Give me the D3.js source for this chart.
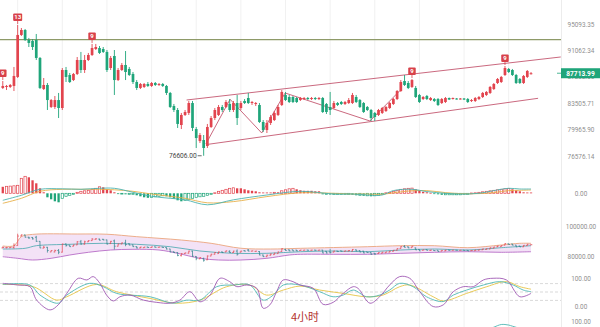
<!DOCTYPE html>
<html><head><meta charset="utf-8">
<script src="https://cdn.jsdelivr.net/npm/d3@7/dist/d3.min.js"></script>
<style>html,body{margin:0;padding:0;background:#fff;}svg{display:block;}</style>
</head><body><svg id="c" width="600" height="327"></svg>
<script>
// ---------- DATA (4h candles) ----------
const openP = [85620,85760,85760,85900,87180,93400,94160,92630,92480,92630,
89940,85470,86040,82990,82990,83940,82850,88180,87460,86740,
87610,89640,88180,89640,90380,91270,91420,91270,90830,88470,
90230,86740,88180,88910,88330,87610,86460,85620,85760,86180,
85900,86320,86040,86180,85900,84920,83120,82580,80570,81910,
82180,83530,80040,78480,78610,77840,80310,81500,81910,82990,
82990,83400,82580,83530,82850,83810,84220,83530,83400,83260,
80970,79910,80840,81230,81910,83260,84640,84360,84360,84220,
83940,84080,84220,84080,84220,84080,84220,83400,82990,82850,
83530,83670,83400,83530,83530,84360,83940,83530,82990,82580,
82180,81910,82180,82440,82850,83400,84080,85190,86600,86320,
85760,85620,84640,84080,84500,83940,84080,84080,83530,83670,
84220,84080,84150,84080,84150,84080,83810,83810,84080,84360,
84640,84920,85470,86320,86460,87460,88330,88180,87460,86890,
86320,87180,87610];
const closeP = [85900,85900,86040,87320,93400,94160,92630,92180,91570,89940,
85620,86040,83940,83940,83940,82850,88180,87180,86460,87610,
89640,88180,89640,90380,91420,91570,90680,90830,88180,89940,
86740,88180,88910,87890,87460,86460,85620,86180,86180,85900,
86320,86040,86180,85900,84920,82990,82580,80710,81910,82310,
83530,80180,78870,79260,77590,80310,81500,82580,82990,82580,
83670,82580,83530,81500,83530,83530,83530,83670,83530,80970,
79910,80840,81640,82180,82990,85060,83940,83670,83670,83670,
84220,84220,84080,84220,84080,84220,82310,82310,82580,83530,
83260,83400,83670,83940,84640,83670,82990,82310,82580,81500,
81640,82580,82850,82990,83530,84080,85190,86460,86040,85620,
86740,84360,83670,84360,84080,84220,83810,83260,84080,84220,
84010,84220,84080,84150,84010,83670,83940,84220,84360,84920,
85060,85760,86180,86890,87180,88470,87890,87460,86320,86320,
87320,88040,87713.99];
const highP = [86600,86040,86180,88620,94940,94470,94320,92940,92780,93550,
90080,87030,86320,84080,84500,84920,88470,88620,87750,87750,
90080,90830,90380,90680,92030,92030,91720,91570,91120,90230,
91120,88470,89200,90970,88620,87890,86740,86320,86320,86460,
86460,86460,86320,86320,86040,85060,83400,82850,82180,82580,
83810,83810,80310,79520,79260,80710,81770,82850,83260,83260,
83940,84080,83810,84640,83810,84080,84920,83810,83670,83530,
81230,81230,81910,82440,83260,85330,85060,84640,84500,84360,
84360,84360,84360,84360,84360,84360,84360,83530,85060,83810,
83670,83810,83810,84220,84920,84640,84080,83670,83120,82720,
82310,82720,82990,83120,83670,84220,85330,86740,87460,86600,
86890,85900,84780,84500,84640,84360,84220,84220,84220,84360,
84290,84290,84220,84220,84220,84220,84080,84360,84500,85060,
85190,85900,86320,87030,87320,88760,88470,88330,87610,87030,
87460,88180,87890];
const lowP = [85470,85330,85620,85190,87030,93240,92480,91570,91120,89640,
85470,85330,82580,82850,82720,81500,82580,86460,86320,86600,
87460,87750,87750,89490,90230,91120,90530,90680,87890,88180,
84640,86600,88040,86740,87320,86180,85330,85470,85620,85760,
85760,85900,85900,85760,84640,82850,82310,80180,80040,81770,
81910,79780,77590,78230,76606,77590,80180,81230,81770,82310,
82850,82310,82310,80570,82580,83400,83400,83260,83120,80840,
79650,79520,80570,81100,81770,83120,83810,83530,83530,83530,
83810,83940,83940,83940,83940,83940,82180,82040,81910,82720,
83120,83260,83260,83400,83400,83530,82850,82180,82440,81100,
81100,81770,82040,82310,82720,83260,83940,85060,85900,85470,
85620,84220,83530,83940,83940,83810,83670,83120,83400,83530,
83940,84010,84010,84010,83940,83530,83670,83670,83940,84220,
84500,84780,85330,86180,86320,87320,87750,87320,86180,86180,
86180,87030,87530];

const priceTicks = [99302.83, 95093.35, 91062.34, 87202.05, 83505.71, 79965.90, 76576.14];
const lastPrice = 87713.99;
const lowIdx = 54, lowPrice = 76606.00;
const markIdx = [0, 4, 24, 110, 135];
const markText = ["9", "13", "9", "9", "9"];
const levelPrice = 92680;
const upChIdx = [49.4, 150.0], upChPrice = [83944, 90084];
const loChIdx = [55.2, 143.9], loChPrice = [78060, 84180];
const zigIdx = [54.6, 61.1, 69.6, 75.9, 98.7, 106.8];
const zigPrice = [78099, 84040, 79522, 84916, 81102, 85264];

// MACD
const macdHist = [650,700,720,750,800,1500,1700,1600,1300,1000,
500,100,-400,-600,-800,-900,-500,-300,-200,-100,
100,200,250,300,400,500,650,600,400,300,
100,-50,-50,-100,-100,-100,-200,-300,-400,-450,
-400,-350,-300,-250,-300,-400,-550,-700,-800,-700,
-600,-500,-400,-350,-300,-200,-100,50,200,300,
400,500,550,500,500,400,300,250,200,100,
80,80,80,100,100,250,350,450,500,400,
300,250,250,250,200,200,-100,-100,-120,-120,
-100,-100,-100,-100,-150,-200,-200,-250,-250,-300,
-250,-200,-100,50,100,200,300,400,450,500,
520,400,300,150,100,50,-50,-100,-150,-150,
-150,-150,-150,-150,-100,-100,30,50,100,150,
200,250,300,350,400,450,480,400,300,200,
100,80,80];
const macdIdx = [0,5,10,16,21,26,30,35,40,45,49,55,62,71,80,89,94,98,102,105,110,114,119,123,128,132,136,139,142];
const difVals = [-700,-200,400,450,400,500,500,100,-300,-500,-650,-1150,-650,-170,200,-70,-70,-170,-170,270,400,170,0,-70,0,270,500,430,430];
const deaVals = [-1000,-500,200,400,400,400,350,200,-70,-300,-500,-950,-830,-330,50,0,-70,-80,-100,50,250,270,70,-30,-30,70,270,300,330];

// BOLL
const bollTicks = [100000, 80000];
const bollUpIdx = [0,3,5,8,20,28,36,48,56,64,72,80,98,107,116,125,134,139,142];
const bollUp = [86900,87100,93000,94500,94750,94600,93000,90800,88650,85400,84900,85370,86420,87080,87080,85770,87540,88650,88650];
const bollLowIdx = [0,4,8,13,18,23,29,35,42,47,53,58,64,71,77,80,89,98,107,116,125,134,142];
const bollLow = [79860,78810,77700,78810,80980,82750,84260,84720,84260,82090,78810,77700,77700,78810,80980,81440,81440,81440,82090,82750,83140,82750,83140];
const bollMidIdx = [0,6,9,18,27,36,45,53,62,71,80,89,98,107,116,125,134,142];
const bollMid = [84910,85370,87080,88000,88650,88000,86420,83600,82090,82090,83140,83600,83140,84260,84910,84260,85770,87080];

// KDJ
const kdjTicks = [100, 0];
const kdjLevels = [80, 50, 20];
const jIdx = [0,4,7.3,9.1,12.7,14.9,17.2,20.3,22.6,24.3,26.1,27.9,29.7,31.5,34.2,37.8,41.4,45,47.6,50.3,53,55.7,58.4,61,62.9,65.6,68.3,70,71.8,73.6,75.4,78,79.9,83.5,86.1,88.8,91.5,94.2,95.5,98.7,101.3,104,106.7,109.4,112.1,115.7,118.4,121.1,123.8,126.5,129.2,131.8,135.4,139,142];
const jVals = [81,75,69,21,-14,4,45,99,93,105,81,39,18,33,39,21,13,10,21,51,15,39,99,87,69,75,63,-8,4,51,93,87,75,63,6,13,45,69,63,10,33,75,105,99,51,-2,4,51,69,69,93,99,93,33,45];
const kIdx = [0,7.3,10,14.9,17.2,23.4,27,30.6,39.6,45.8,49.4,53,57.5,62,66.4,70,72.7,75.4,79.9,85.2,88.8,91.5,94.2,97.8,101.3,104,106.7,110.3,113.9,118.4,121.1,124.7,129.2,133.6,137.2,139.9,142];
const kVals = [77,75,39,10,39,81,69,45,33,10,21,21,69,75,75,21,39,75,75,51,33,39,57,33,39,57,81,69,33,16,39,57,75,87,75,57,51];
const dIdx = [0,8.2,14.5,17.2,25.2,30.6,39.6,46.7,53,60.2,66.4,70.9,75.4,79.9,85.2,91.5,97.8,102.2,106.7,109.4,115.7,118.4,124.7,130.1,135.4,139,142];
const dVals = [77,69,21,33,77,51,27,10,21,69,75,39,57,71,57,45,33,39,69,75,33,18,45,69,87,69,60];

// lower (cut-off) panel
const botTicks = [100];
const botIdx = [128,131,133,134,135,136,137,139,141];
const botVals = [65,75,86,90,90,88,84,76,68];

const periodLabel = "4小时";

// ---------- DRAW ----------
const svg = d3.select("#c");
const W = 600, H = 327, plotR = 561;
const UP = "#e2444e", DOWN = "#1fa57a", LINE = "#c45870";
const x = d3.scaleLinear().domain([-0.75, 150.06]).range([0, plotR]);
const yMain = d3.scaleLog().domain([95093.35, 76576.14]).range([24, 156]);
const yMacd = d3.scaleLinear().domain([0, 1000]).range([193.3, 183.3]);
const yBoll = d3.scaleLinear().domain([80000, 100000]).range([256.5, 226]);
const yKdj = d3.scaleLinear().domain([0, 100]).range([306, 278]);
const yBot = d3.scaleLinear().domain([0, 100]).range([349.7, 321.7]);
const n = openP.length;
const ids = d3.range(n);
const isUp = i => closeP[i] >= openP[i];

// grid
const gridIdx = d3.range(4, n, 12);
svg.append("g").selectAll("line").data(gridIdx).join("line")
  .attr("x1", d => x(d)).attr("x2", d => x(d)).attr("y1", 0).attr("y2", H)
  .attr("stroke", "#f1f1f1").attr("stroke-width", 1);
svg.append("line").attr("x1", plotR + 0.5).attr("x2", plotR + 0.5).attr("y1", 0).attr("y2", H)
  .attr("stroke", "#ececec");

// level line
svg.append("line").attr("x1", 0).attr("x2", plotR).attr("y1", yMain(levelPrice)).attr("y2", yMain(levelPrice))
  .attr("stroke", "#8e9a68").attr("stroke-width", 1.1);

// channel & zigzag
const seg = d3.line().x(d => x(d[0])).y(d => yMain(d[1]));
[[upChIdx, upChPrice], [loChIdx, loChPrice], [zigIdx, zigPrice]].forEach(([a, b]) => {
  svg.append("path").attr("d", seg(a.map((d, k) => [d, b[k]])))
    .attr("stroke", LINE).attr("fill", "none").attr("stroke-width", 0.9);
});

// candles
const cg = svg.append("g");
cg.selectAll("line").data(ids).join("line")
  .attr("x1", i => x(i)).attr("x2", i => x(i))
  .attr("y1", i => yMain(highP[i])).attr("y2", i => yMain(lowP[i]))
  .attr("stroke", i => isUp(i) ? UP : DOWN).attr("stroke-width", 0.9);
cg.selectAll("rect").data(ids).join("rect")
  .attr("x", i => x(i) - 1.35).attr("width", 2.7)
  .attr("y", i => yMain(Math.max(openP[i], closeP[i])))
  .attr("height", i => Math.max(1, Math.abs(yMain(openP[i]) - yMain(closeP[i]))))
  .attr("fill", i => isUp(i) ? UP : DOWN);

// low label
const ly = yMain(lowPrice);
svg.append("line").attr("x1", x(lowIdx) - 6).attr("x2", x(lowIdx) - 2).attr("y1", ly).attr("y2", ly)
  .attr("stroke", "#444").attr("stroke-width", 0.8);
svg.append("text").attr("x", x(lowIdx) - 7).attr("y", ly + 2.3).attr("text-anchor", "end")
  .attr("font-family", "Roboto, Arial, sans-serif").attr("font-size", 6.6).attr("fill", "#444")
  .text(d3.format(".2f")(lowPrice));

// TD marks
const mg = svg.append("g");
markIdx.forEach((i, k) => {
  const cx = x(i), hy = yMain(highP[i]);
  const w = markText[k].length > 1 ? 9 : 7.5;
  const by = hy - 4;
  mg.append("line").attr("x1", cx).attr("x2", cx).attr("y1", by).attr("y2", hy - 1)
    .attr("stroke", "#d8414a").attr("stroke-width", 0.8);
  mg.append("rect").attr("x", cx - w / 2).attr("y", by - 7.5).attr("width", w).attr("height", 7.5)
    .attr("rx", 1).attr("fill", "#d8414a");
  mg.append("text").attr("x", cx).attr("y", by - 1.6).attr("text-anchor", "middle")
    .attr("font-family", "Roboto, Arial, sans-serif").attr("font-size", 6).attr("font-weight", "bold")
    .attr("fill", "#fff").text(markText[k]);
});

// right axes
function rightAxis(scale, vals, fmt) {
  const g = svg.append("g").attr("transform", "translate(581,0)")
    .call(d3.axisRight(scale).tickValues(vals).tickSize(0).tickPadding(0).tickFormat(fmt));
  g.select(".domain").remove();
  g.selectAll("text").attr("x", 0).attr("text-anchor", "middle")
    .attr("font-family", "Roboto, Arial, sans-serif").attr("font-size", 6.4).attr("fill", "#8f8f8f");
  return g;
}
const f2 = d3.format(".2f");
rightAxis(yMain, priceTicks, f2);
rightAxis(yMacd, [0], f2);
rightAxis(yBoll, bollTicks, f2);
rightAxis(yKdj, kdjTicks, f2);
rightAxis(yBot, botTicks, f2);

// last price badge
const lpY = yMain(lastPrice);
svg.append("line").attr("x1", plotR - 4).attr("x2", plotR).attr("y1", lpY).attr("y2", lpY)
  .attr("stroke", "#1fa57a").attr("stroke-width", 0.8);
svg.append("rect").attr("x", plotR).attr("y", lpY - 5).attr("width", W - plotR).attr("height", 10)
  .attr("fill", "#1fa57a");
svg.append("text").attr("x", 580.5).attr("y", lpY + 2.4).attr("text-anchor", "middle")
  .attr("font-family", "Roboto, Arial, sans-serif").attr("font-size", 6.6).attr("font-weight", "bold")
  .attr("fill", "#fff").text(f2(lastPrice));

// MACD histogram
const hg = svg.append("g");
ids.forEach(i => {
  const v = macdHist[i], pv = i > 0 ? macdHist[i - 1] : v;
  let hollow;
  if (v >= 0) hollow = v > pv; else hollow = v >= pv;
  const col = v >= 0 ? UP : DOWN;
  const y0 = yMacd(0), y1 = yMacd(v);
  const top = Math.min(y0, y1), h = Math.max(0.8, Math.abs(y1 - y0));
  hg.append("rect").attr("x", x(i) - 1.15).attr("width", 2.3).attr("y", top).attr("height", h)
    .attr("fill", hollow ? "#fff" : col).attr("stroke", col).attr("stroke-width", hollow ? 0.7 : 0);
});
const lMacd = d3.line().x(d => x(d[0])).y(d => yMacd(d[1])).curve(d3.curveCatmullRom.alpha(0.5));
svg.append("path").attr("d", lMacd(macdIdx.map((d, k) => [d, deaVals[k]])))
  .attr("fill", "none").attr("stroke", "#e8b04a").attr("stroke-width", 0.9);
svg.append("path").attr("d", lMacd(macdIdx.map((d, k) => [d, difVals[k]])))
  .attr("fill", "none").attr("stroke", "#4db3b0").attr("stroke-width", 0.9);

// BOLL panel
const lB = d3.line().x(d => x(d[0])).y(d => yBoll(d[1])).curve(d3.curveCatmullRom.alpha(0.5));
const upPts = bollUpIdx.map((d, k) => [d, bollUp[k]]);
const loPts = bollLowIdx.map((d, k) => [d, bollLow[k]]);
const fillD = lB(upPts) + "L" + lB(loPts.slice().reverse()).slice(1) + "Z";
svg.append("path").attr("d", fillD).attr("fill", "#f3e2f6").attr("stroke", "none");
svg.append("path").attr("d", lB(upPts)).attr("fill", "none").attr("stroke", "#eba57d").attr("stroke-width", 0.9);
svg.append("path").attr("d", lB(loPts)).attr("fill", "none").attr("stroke", "#b76cc6").attr("stroke-width", 0.9);
svg.append("path").attr("d", lB(bollMidIdx.map((d, k) => [d, bollMid[k]])))
  .attr("fill", "none").attr("stroke", "#58aeb6").attr("stroke-width", 0.9);
const og = svg.append("g");
ids.forEach(i => {
  const c = isUp(i) ? UP : "#2a7f86", cx = x(i);
  og.append("line").attr("x1", cx).attr("x2", cx).attr("y1", yBoll(highP[i])).attr("y2", yBoll(lowP[i]))
    .attr("stroke", c).attr("stroke-width", 0.7);
  og.append("line").attr("x1", cx - 1.3).attr("x2", cx).attr("y1", yBoll(openP[i])).attr("y2", yBoll(openP[i]))
    .attr("stroke", c).attr("stroke-width", 0.7);
  og.append("line").attr("x1", cx).attr("x2", cx + 1.3).attr("y1", yBoll(closeP[i])).attr("y2", yBoll(closeP[i]))
    .attr("stroke", c).attr("stroke-width", 0.7);
});

// KDJ
svg.append("g").selectAll("line").data(kdjLevels).join("line")
  .attr("x1", 0).attr("x2", plotR).attr("y1", d => yKdj(d)).attr("y2", d => yKdj(d))
  .attr("stroke", "#cfcfcf").attr("stroke-width", 0.8).attr("stroke-dasharray", "3,2");
const lK = d3.line().x(d => x(d[0])).y(d => yKdj(d[1])).curve(d3.curveCatmullRom.alpha(0.5));
svg.append("path").attr("d", lK(dIdx.map((d, k) => [d, dVals[k]])))
  .attr("fill", "none").attr("stroke", "#e6c445").attr("stroke-width", 0.9);
svg.append("path").attr("d", lK(kIdx.map((d, k) => [d, kVals[k]])))
  .attr("fill", "none").attr("stroke", "#4fb8b4").attr("stroke-width", 0.9);
svg.append("path").attr("d", lK(jIdx.map((d, k) => [d, jVals[k]])))
  .attr("fill", "none").attr("stroke", "#a05ab4").attr("stroke-width", 0.9);

// bottom cut-off panel
svg.append("path").attr("d", d3.line().x(d => x(d[0])).y(d => yBot(d[1])).curve(d3.curveCatmullRom)(botIdx.map((d, k) => [d, botVals[k]])))
  .attr("fill", "none").attr("stroke", "#4fb8b4").attr("stroke-width", 0.9);

// period label
svg.append("text").attr("x", 305).attr("y", 320.5).attr("text-anchor", "middle")
  .attr("font-family", "'Noto Sans CJK SC', sans-serif").attr("font-size", 11).attr("fill", "#b3302d")
  .text(periodLabel);
</script></body></html>
